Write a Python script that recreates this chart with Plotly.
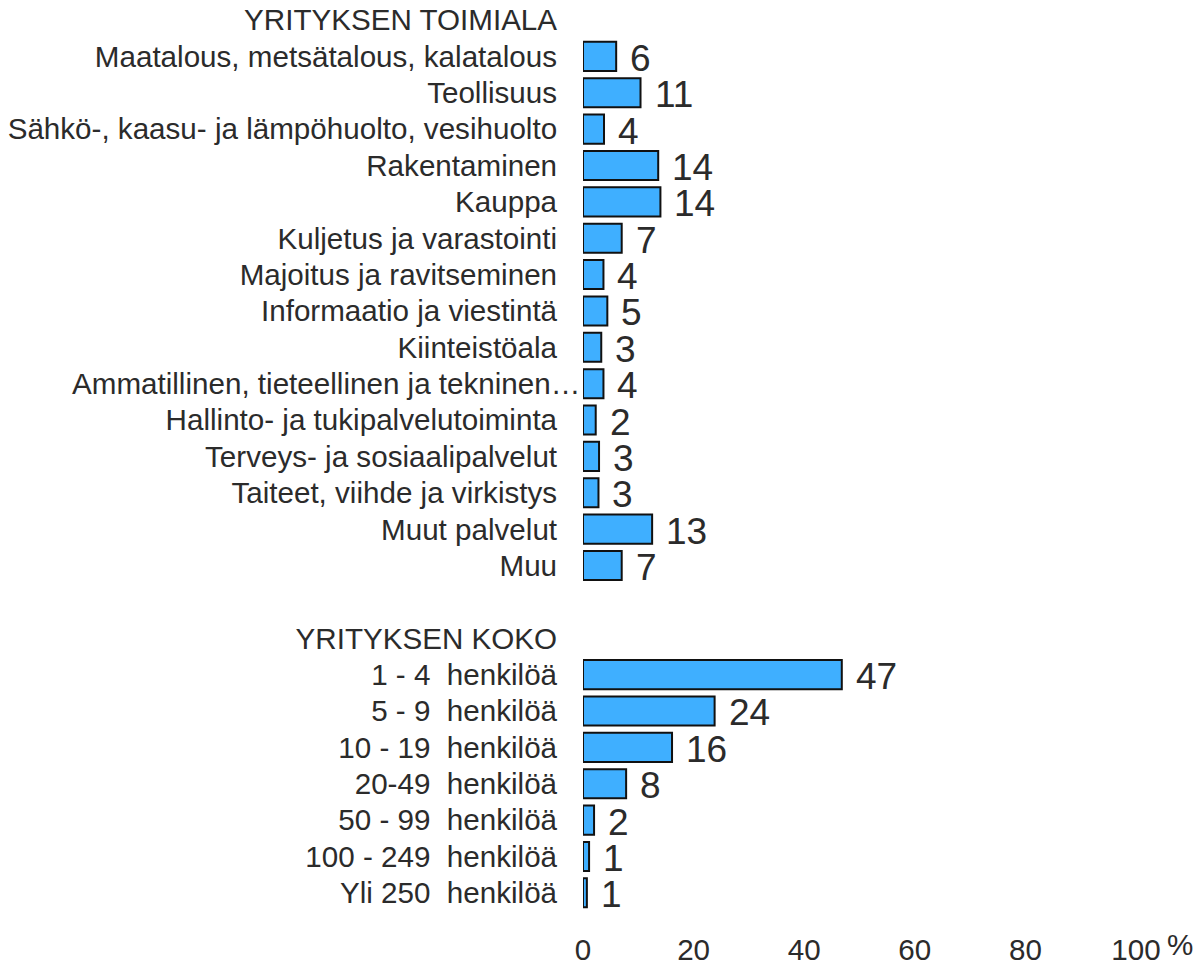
import plotly.graph_objects as go

# ---- data ----
header_industry = "YRITYKSEN TOIMIALA"
industry_labels = [
    "Maatalous, metsätalous, kalatalous",
    "Teollisuus",
    "Sähkö-, kaasu- ja lämpöhuolto, vesihuolto",
    "Rakentaminen",
    "Kauppa",
    "Kuljetus ja varastointi",
    "Majoitus ja ravitseminen",
    "Informaatio ja viestintä",
    "Kiinteistöala",
    "Ammatillinen, tieteellinen ja tekninen…",
    "Hallinto- ja tukipalvelutoiminta",
    "Terveys- ja sosiaalipalvelut",
    "Taiteet, viihde ja virkistys",
    "Muut palvelut",
    "Muu",
]
industry_values = [6.0, 10.4, 3.8, 13.6, 14.0, 7.0, 3.7, 4.4, 3.3, 3.7, 2.3, 2.9, 2.8, 12.5, 7.0]
industry_text = [6, 11, 4, 14, 14, 7, 4, 5, 3, 4, 2, 3, 3, 13, 7]

header_size = "YRITYKSEN KOKO"
size_labels = [
    "1 - 4\u00a0 henkilöä",
    "5 - 9\u00a0 henkilöä",
    "10 - 19\u00a0 henkilöä",
    "20-49\u00a0 henkilöä",
    "50 - 99\u00a0 henkilöä",
    "100 - 249\u00a0 henkilöä",
    "Yli 250\u00a0 henkilöä",
]
size_values = [46.8, 23.8, 16.1, 7.8, 2.0, 1.1, 0.7]
size_text = [47, 24, 16, 8, 2, 1, 1]

x_ticks = [0, 20, 40, 60, 80, 100]

# ---- layout rows ----
ind_pos = list(range(1, 1 + len(industry_labels)))
size_header_pos = ind_pos[-1] + 2
size_pos = list(range(size_header_pos + 1, size_header_pos + 1 + len(size_labels)))
n_rows = size_pos[-1] + 1

FONT = "Liberation Sans, Arial, sans-serif"
TXT = "#2b2b2b"
BAR = "#3FAFFF"
LBL = 29.6

long_label = "Ammatillinen, tieteellinen ja tekninen…"
tick_industry = ["" if l == long_label else l for l in industry_labels]

tickvals = [0] + ind_pos + [size_header_pos] + size_pos
ticktext = [header_industry] + tick_industry + [header_size] + size_labels

fig = go.Figure()
fig.add_trace(go.Bar(
    orientation="h",
    x=industry_values + size_values,
    y=ind_pos + size_pos,
    width=0.8,
    marker=dict(color=BAR, line=dict(color="#111111", width=2)),
    hoverinfo="x+y",
    showlegend=False,
))

annotations = []
for v, t, p in zip(industry_values + size_values, industry_text + size_text, ind_pos + size_pos):
    annotations.append(dict(
        x=v, y=p, xref="x", yref="y", text=str(t), showarrow=False,
        xanchor="left", yanchor="middle", xshift=12, yshift=-2,
        font=dict(family=FONT, size=37, color=TXT),
    ))

# long, overflowing label
if long_label in industry_labels:
    annotations.append(dict(
        x=0, y=ind_pos[industry_labels.index(long_label)], xref="paper", yref="y",
        text=long_label, showarrow=False, xanchor="right", yanchor="middle",
        xshift=-1, font=dict(family=FONT, size=LBL, color=TXT),
    ))

# percent sign
annotations.append(dict(
    x=100, y=0, xref="x", yref="paper", text="%", showarrow=False,
    xanchor="left", yanchor="top", xshift=29, yshift=-15,
    font=dict(family=FONT, size=LBL, color=TXT),
))

fig.update_layout(
    width=1196, height=956,
    margin=dict(l=575, r=68, t=0, b=53),
    paper_bgcolor="white", plot_bgcolor="white",
    font=dict(family=FONT, size=LBL, color=TXT),
    bargap=0.2,
    annotations=annotations,
)
fig.update_xaxes(
    range=[0, 100], tickvals=x_ticks, showgrid=False, zeroline=False, showline=False,
    ticks="outside", ticklen=12, tickcolor="rgba(0,0,0,0)", automargin=False,
    ticklabeloverflow="allow",
    tickfont=dict(family=FONT, size=LBL, color=TXT),
)
fig.update_yaxes(
    range=[n_rows - 0.5, -0.33], tickvals=tickvals, ticktext=ticktext,
    showgrid=False, zeroline=False, showline=False, automargin=False,
    ticks="outside", ticklen=19, tickcolor="rgba(0,0,0,0)",
    ticklabeloverflow="allow",
    tickfont=dict(family=FONT, size=LBL, color=TXT),
)

fig.write_html("out.html")
